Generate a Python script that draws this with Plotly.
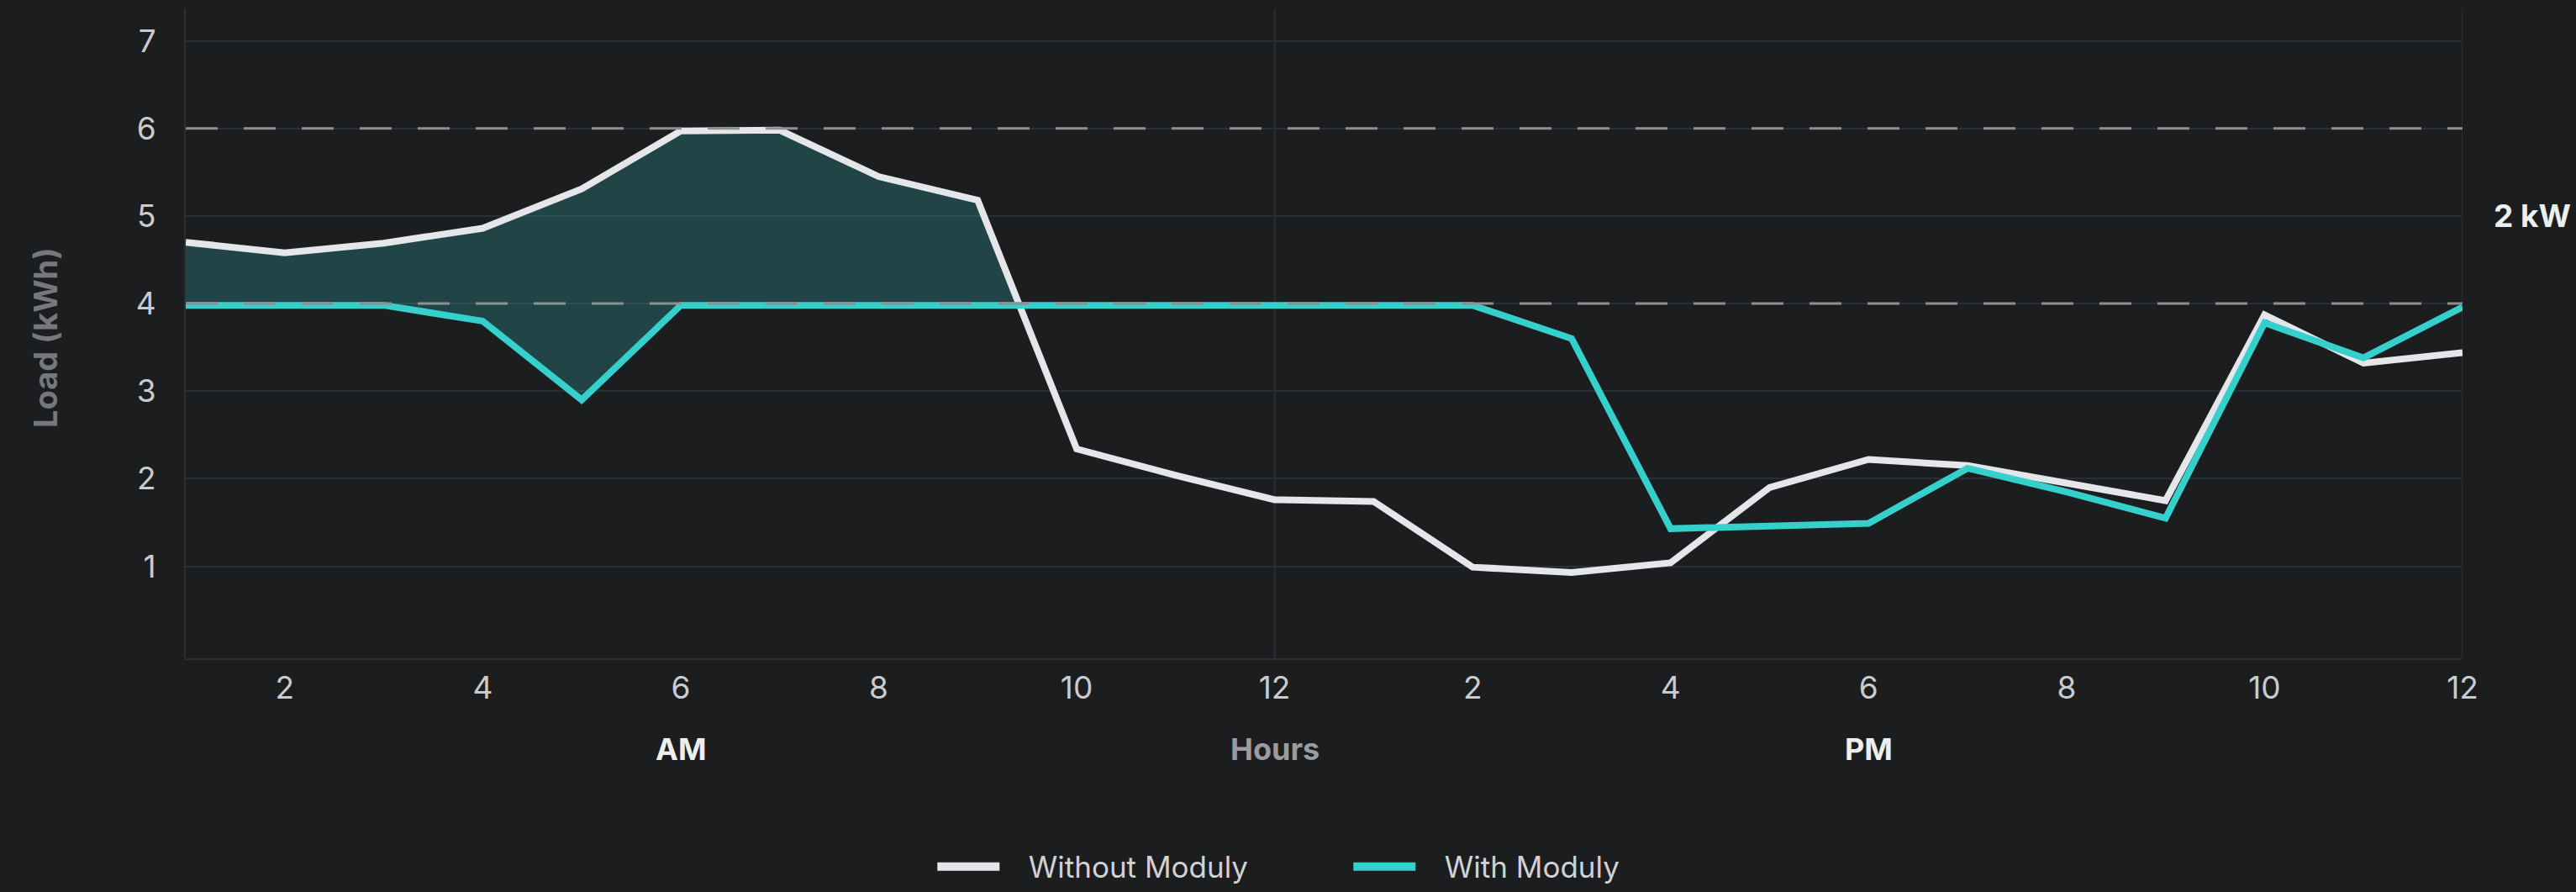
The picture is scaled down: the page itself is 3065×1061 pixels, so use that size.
import plotly.graph_objects as go

# ---- data ----
hours = list(range(1, 25))
without_moduly = [4.70, 4.58, 4.69, 4.86, 5.31, 5.97, 5.98, 5.45, 5.18, 2.34,
                  2.04, 1.76, 1.74, 0.99, 0.93, 1.04, 1.90, 2.22, 2.15, 1.95,
                  1.75, 3.87, 3.32, 3.44]
with_moduly = [3.98, 3.98, 3.98, 3.80, 2.90, 3.98, 3.98, 3.98, 3.98, 3.98,
               3.98, 3.98, 3.98, 3.98, 3.60, 1.43, 1.46, 1.49, 2.12, 1.85,
               1.55, 3.78, 3.38, 3.96]
x_tickvals = [2, 4, 6, 8, 10, 12, 14, 16, 18, 20, 22, 24]
x_ticktext = ["2", "4", "6", "8", "10", "12", "2", "4", "6", "8", "10", "12"]
y_tickvals = [1, 2, 3, 4, 5, 6, 7]
limit_lines = [4, 6]
period_labels = ["AM", "Hours", "PM"]
period_hours = [6, 12, 18]
divider_hours = [12, 24]
limit_label = "2 kW"
series_names = ["Without Moduly", "With Moduly"]

# ---- style ----
BG = "#1c1d1f"
GRID = "#2a2e35"
WHITE = "#e4e6ea"
TEAL = "#35d0cc"
FILL = "rgba(55,210,210,0.22)"
FONT = "Inter"
GAP = "\u00a0\u00a0\u00a0"

# shaded area where the load without Moduly exceeds the load with Moduly (morning)
n = 0
while n < len(hours) and without_moduly[n] > with_moduly[n]:
    n += 1
d0 = without_moduly[n - 1] - with_moduly[n - 1]
d1 = without_moduly[n] - with_moduly[n]
t = d0 / (d0 - d1)
xc = hours[n - 1] + t * (hours[n] - hours[n - 1])
yc = with_moduly[n - 1] + t * (with_moduly[n] - with_moduly[n - 1])
fill_x = hours[:n] + [xc] + hours[:n][::-1]
fill_y = without_moduly[:n] + [yc] + with_moduly[:n][::-1]

fig = go.Figure()
fig.add_trace(go.Scatter(x=fill_x, y=fill_y, fill="toself", fillcolor=FILL,
                         line=dict(width=0), mode="lines", showlegend=False,
                         hoverinfo="skip"))
for name, vals, col in zip(series_names, [without_moduly, with_moduly], [WHITE, TEAL]):
    fig.add_trace(go.Scatter(x=hours, y=vals, mode="lines", name=name,
                             showlegend=False, legendgroup=name,
                             line=dict(color=col, width=8)))
# legend entries (thicker key lines, like the reference)
for name, col in zip(series_names, [WHITE, TEAL]):
    fig.add_trace(go.Scatter(x=[None], y=[None], mode="lines", name=GAP + name,
                             legendgroup=name, showlegend=True,
                             line=dict(color=col, width=12)))

for v in limit_lines:
    fig.add_shape(type="line", xref="paper", yref="y", x0=0, x1=1, y0=v, y1=v,
                  line=dict(color="#8e9094", width=3, dash="38px,31px"),
                  layer="above")
for h in divider_hours:
    fig.add_shape(type="line", xref="x", yref="paper", x0=h, x1=h, y0=0, y1=1,
                  line=dict(color=GRID, width=2), layer="below")

for lab, h in zip(period_labels, period_hours):
    fig.add_annotation(x=h, xref="x", y=-0.1397, yref="paper", text=lab,
                       showarrow=False, yanchor="middle",
                       font=dict(family=FONT, size=36, weight=700,
                                 color="#9a9ca0" if lab == "Hours" else "#eceef0"))

fig.add_annotation(x=1.0128, xref="paper", y=5, yref="y", text=limit_label,
                   showarrow=False, xanchor="left", yanchor="middle",
                   font=dict(family=FONT, size=37, weight=700, color="#eceef0"))

fig.add_annotation(x=-0.0616, xref="paper", y=0.493, yref="paper",
                   text="Load (kWh)", textangle=-90, showarrow=False,
                   xanchor="center", yanchor="middle",
                   font=dict(family=FONT, size=38, weight=700, color="#76787c"))

fig.update_layout(
    width=3065, height=1061,
    paper_bgcolor=BG, plot_bgcolor=BG,
    margin=dict(l=221, r=135, t=10, b=278, autoexpand=False),
    font=dict(family=FONT, color="#c9cbce"),
    showlegend=True,
    legend=dict(orientation="h", x=0.511, xanchor="center",
                yref="container", y=0.0283, yanchor="middle",
                font=dict(family=FONT, size=35, color="#d0d2d5"),
                itemwidth=74, entrywidth=406, bgcolor="rgba(0,0,0,0)"),
    xaxis=dict(range=[1, 24], tickvals=x_tickvals, ticktext=x_ticktext,
               showgrid=False, zeroline=False, showline=True, linecolor=GRID,
               linewidth=2, ticks="", ticklabelstandoff=2,
               tickfont=dict(family=FONT, size=37, color="#c9cbce")),
    yaxis=dict(range=[-0.05, 7.37], tickvals=y_tickvals, showgrid=True,
               gridcolor=GRID, gridwidth=2, zeroline=False, showline=True,
               linecolor=GRID, linewidth=2, ticks="", ticklabelstandoff=26,
               tickfont=dict(family=FONT, size=37, color="#c9cbce")),
)

fig.write_html("out.html", config={"displayModeBar": False},
               post_script="document.body.style.margin='0';"
                           "document.body.style.background='%s';" % BG)
